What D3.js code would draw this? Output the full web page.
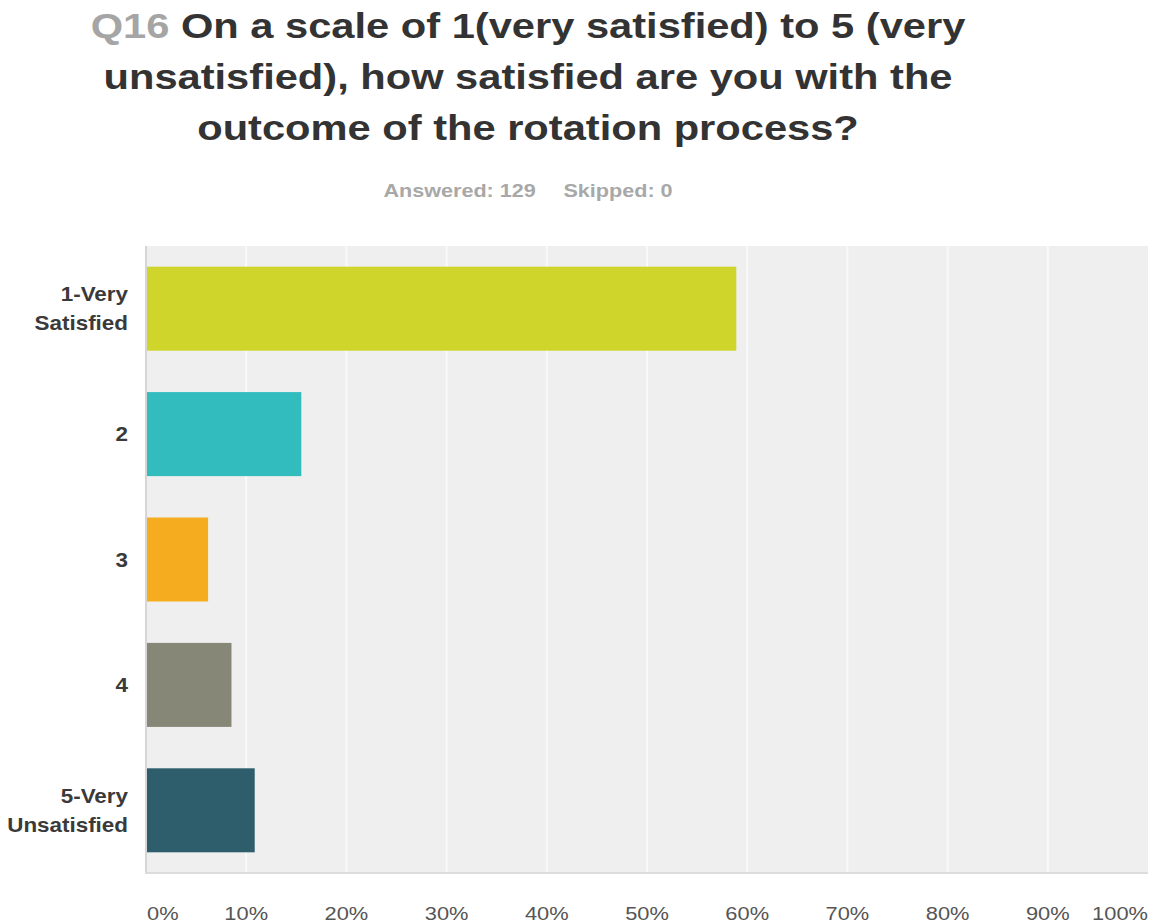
<!DOCTYPE html>
<html>
<head>
<meta charset="utf-8">
<script src="https://cdn.jsdelivr.net/npm/d3@7"></script>
<style>
  html, body { margin: 0; padding: 0; background: #fff; }
  svg { display: block; font-family: "Liberation Sans", Arial, Helvetica, sans-serif; }
</style>
</head>
<body>
<svg id="chart" width="1154" height="923"></svg>
<script>
// Survey question and response summary
const questionNumber = "Q16";
const titleLines = [
  "On a scale of 1(very satisfied) to 5 (very",
  "unsatisfied), how satisfied are you with the",
  "outcome of the rotation process?"
];
const answeredText = "Answered: 129";
const skippedText = "Skipped: 0";

// Answer choices (label lines) and share of respondents, in percent
const categories = ["1-Very Satisfied", "2", "3", "4", "5-Very Unsatisfied"];
const categoryLines = [["1-Very", "Satisfied"], ["2"], ["3"], ["4"], ["5-Very", "Unsatisfied"]];
const percents = [58.91, 15.50, 6.20, 8.53, 10.85];
const barColors = ["#cfd52a", "#33bcbe", "#f5ac1f", "#868776", "#2e5e6b"];
const tickValues = [0, 10, 20, 30, 40, 50, 60, 70, 80, 90, 100];
const tickLabels = ["0%", "10%", "20%", "30%", "40%", "50%", "60%", "70%", "80%", "90%", "100%"];

const svg = d3.select("#chart");
const plot = { left: 146, right: 1148, top: 246, bottom: 873 };

// The page's type is set a little wide: glyphs are widened horizontally.
function wideText(parent, x, y, sx) {
  return parent.append("text")
    .attr("transform", `translate(${x},${y}) scale(${sx},1)`)
    .attr("x", 0).attr("y", 0);
}

// Title block
const titleCenter = 528;
const titleY = [38, 89, 140];
titleLines.forEach((line, i) => {
  const t = wideText(svg, titleCenter, titleY[i], 1.19)
    .attr("text-anchor", "middle")
    .attr("font-weight", "bold")
    .attr("font-size", 35)
    .attr("fill", "#333");
  if (i === 0) {
    t.append("tspan").attr("fill", "#a5a5a5").text(questionNumber + " ");
    t.append("tspan").text(line);
  } else {
    t.text(line);
  }
});

const sub = wideText(svg, titleCenter, 197, 1.2)
  .attr("text-anchor", "middle")
  .attr("font-weight", "bold")
  .attr("font-size", 18)
  .attr("fill", "#a8a8a8");
sub.append("tspan").text(answeredText);
sub.append("tspan").attr("dx", 23).text(skippedText);

// Scales
const x = d3.scaleLinear().domain([0, 100]).range([plot.left, plot.right]);
const y = d3.scaleBand().domain(categories).range([plot.top, plot.bottom]).paddingInner(0.33).paddingOuter(0.165);

// Plot background
svg.append("rect")
  .attr("x", plot.left).attr("y", plot.top)
  .attr("width", plot.right - plot.left).attr("height", plot.bottom - plot.top)
  .attr("fill", "#efefef");

// Vertical gridlines
svg.append("g").selectAll("line")
  .data(tickValues.slice(1, -1))
  .join("line")
  .attr("x1", d => x(d)).attr("x2", d => x(d))
  .attr("y1", plot.top).attr("y2", plot.bottom)
  .attr("stroke", "#f9f9f9").attr("stroke-width", 2);

// Bars
svg.append("g").selectAll("rect")
  .data(categories)
  .join("rect")
  .attr("x", x(0))
  .attr("y", d => y(d))
  .attr("width", (d, i) => x(percents[i]) - x(0))
  .attr("height", y.bandwidth())
  .attr("fill", (d, i) => barColors[i]);

// Axis lines
svg.append("line")
  .attr("x1", plot.left).attr("x2", plot.left)
  .attr("y1", plot.top).attr("y2", plot.bottom + 1)
  .attr("stroke", "#d6d6d6").attr("stroke-width", 2);
svg.append("line")
  .attr("x1", plot.left - 1).attr("x2", plot.right)
  .attr("y1", plot.bottom).attr("y2", plot.bottom)
  .attr("stroke", "#dcdcdc").attr("stroke-width", 2);

// Category labels
const catG = svg.append("g")
  .attr("font-weight", "bold")
  .attr("font-size", 19.5)
  .attr("fill", "#3a3a3a");
categories.forEach((c, i) => {
  const lines = categoryLines[i];
  const cy = y(c) + y.bandwidth() / 2;
  const lh = 29;
  lines.forEach((ln, j) => {
    wideText(catG, 128, cy + 7 + (j - (lines.length - 1) / 2) * lh, 1.15)
      .attr("text-anchor", "end")
      .text(ln);
  });
});

// X tick labels
const tickG = svg.append("g")
  .attr("font-size", 19)
  .attr("fill", "#555");
tickValues.forEach((d, i) => {
  wideText(tickG, d === 0 ? x(d) + 1 : x(d), 920, 1.15)
    .attr("text-anchor", d === 0 ? "start" : d === 100 ? "end" : "middle")
    .text(tickLabels[i]);
});
</script>
</body>
</html>
